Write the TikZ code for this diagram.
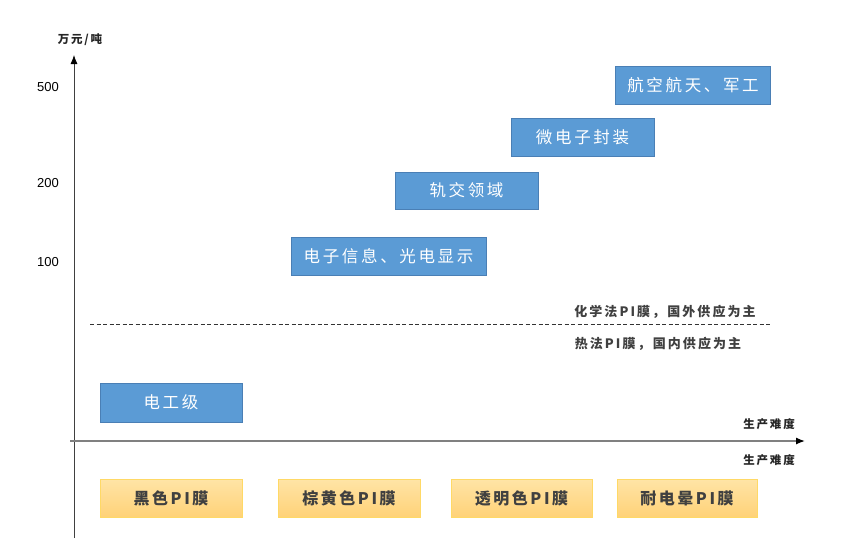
\documentclass[tikz,border=0pt]{standalone}
\usepackage{fontspec}
\setmainfont{Liberation Sans}
\newfontfamily\cjk[LetterSpace=16]{Noto Sans CJK SC}
\usetikzlibrary{arrows.meta}
\definecolor{bluefill}{HTML}{5B9BD5}
\definecolor{blueedge}{HTML}{4A7FB5}
\definecolor{orgtop}{HTML}{FFE4A6}
\definecolor{orgbot}{HTML}{FFD278}
\definecolor{orgedge}{HTML}{FFD966}
\definecolor{txtgray}{HTML}{404040}
\definecolor{axisgray}{HTML}{808080}
\begin{document}
\begin{tikzpicture}[x=1pt,y=-1pt,
  bluebox/.style={draw=blueedge,line width=0.8pt,fill=bluefill,text=white,inner sep=0pt,
     font=\cjk\fontsize{16.5}{18}\selectfont},
  orgbox/.style={draw=orgedge,line width=0.8pt,top color=orgtop,bottom color=orgbot,text=txtgray,inner sep=0pt,
     font=\cjk\bfseries\fontsize{16}{18}\selectfont},
  smalllab/.style={text=txtgray,inner sep=0pt,font=\cjk\bfseries\fontsize{13}{15}\selectfont},
  axlab/.style={text=black!85,inner sep=0pt,font=\cjk\bfseries\fontsize{11.5}{13}\selectfont},
  ticklab/.style={text=black,inner sep=0pt,font=\fontsize{13}{15}\selectfont},
  axarrow/.style={-{Latex[length=9pt,width=7pt,black]}}]
\useasboundingbox (0,0) rectangle (864,557);
% axes
\coordinate (yb) at (74,538);
\coordinate (yt) at (74,55);
\coordinate (xl) at (70,441);
\coordinate (xr) at (805,441);
\draw[black!75,line width=0.8pt,axarrow] (yb) -- (yt);
\draw[axisgray,line width=1.3pt,axarrow] (xl) -- (xr);
\node[axlab] (yunit) at (80,40) {万元/吨};
\node[axlab] (xlab1) at (769,424) {生产难度};
\node[axlab] (xlab2) at (769,460) {生产难度};
% ticks
\node[ticklab] (t500) at (48,87) {500};
\node[ticklab] (t200) at (48,183) {200};
\node[ticklab] (t100) at (48,262) {100};
% dashed line
\coordinate (dl) at (90,324);
\coordinate (dr) at (771,324);
\draw[black!80,line width=1pt,dash pattern=on 4pt off 2.5pt] (dl) -- (dr);
\node[smalllab] (chem) at (665,312) {化学法PI膜，国外供应为主};
\node[smalllab] (heat) at (658,344) {热法PI膜，国内供应为主};
% blue boxes
\node[bluebox,minimum width=155pt,minimum height=38pt] (b1) at (693,85) {航空航天、军工};
\node[bluebox,minimum width=143pt,minimum height=38pt] (b2) at (582.5,137) {微电子封装};
\node[bluebox,minimum width=143pt,minimum height=37pt] (b3) at (466.5,190.5) {轨交领域};
\node[bluebox,minimum width=195pt,minimum height=38pt] (b4) at (388.5,256) {电子信息、光电显示};
\node[bluebox,minimum width=142pt,minimum height=39pt] (b5) at (171,402.5) {电工级};
% orange boxes
\node[orgbox,minimum width=142pt,minimum height=38pt] (o1) at (171,498) {黑色PI膜};
\node[orgbox,minimum width=142pt,minimum height=38pt] (o2) at (349,498) {棕黄色PI膜};
\node[orgbox,minimum width=141pt,minimum height=38pt] (o3) at (521.5,498) {透明色PI膜};
\node[orgbox,minimum width=140pt,minimum height=38pt] (o4) at (687,498) {耐电晕PI膜};
\end{tikzpicture}
\end{document}
